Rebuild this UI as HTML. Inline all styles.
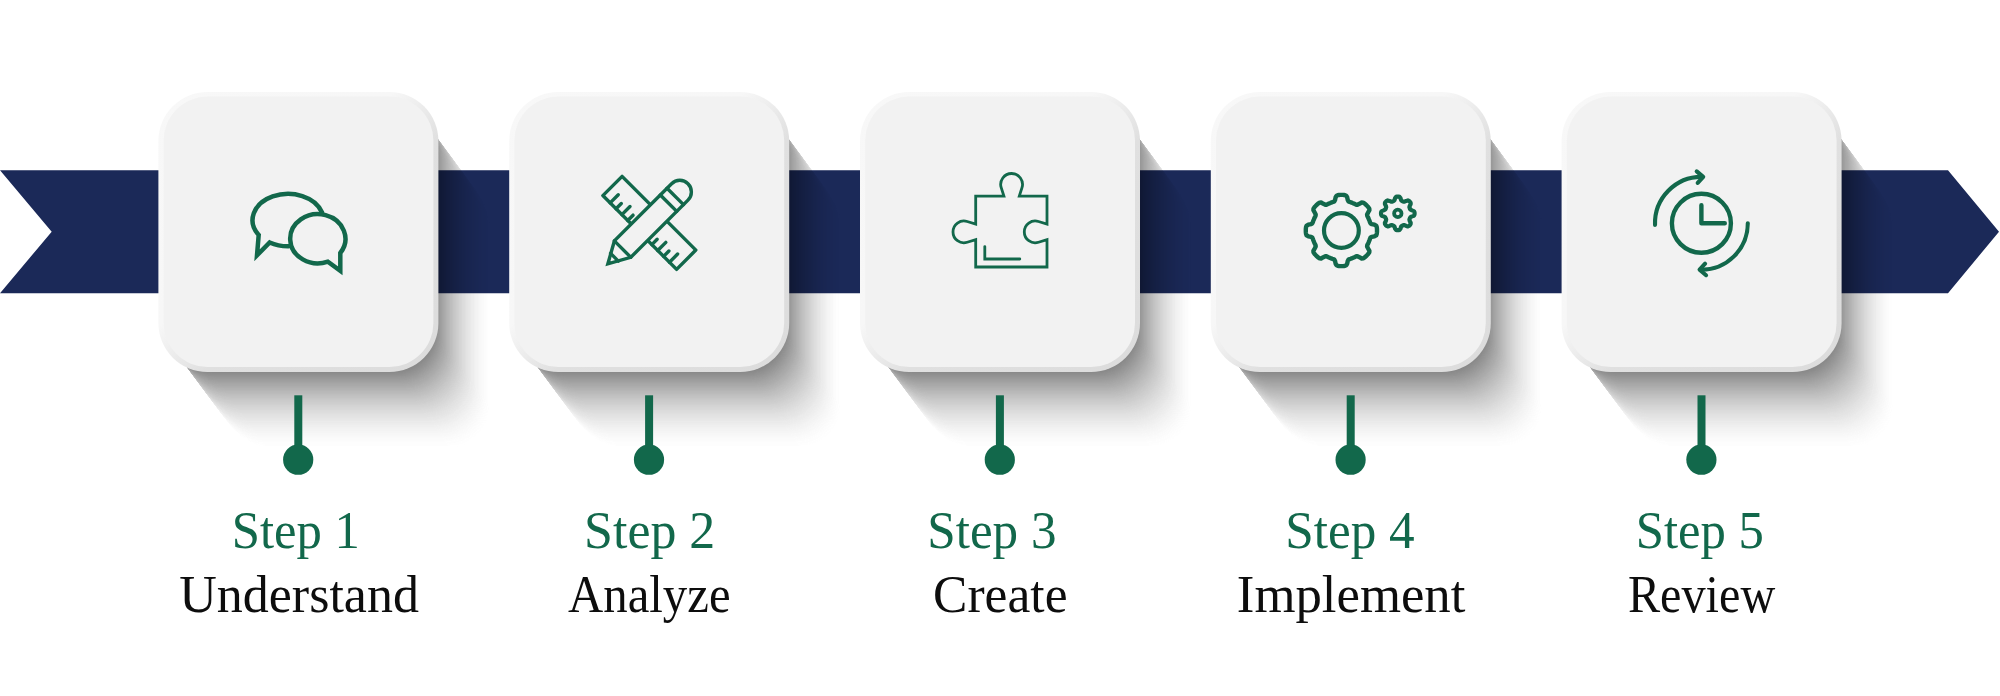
<!DOCTYPE html>
<html lang="en"><head><meta charset="utf-8"><title>Five step process</title>
<style>
html,body{margin:0;padding:0;background:#fff;}
body{width:2000px;height:696px;overflow:hidden;position:relative;font-family:"Liberation Serif",serif;}
svg{position:absolute;left:0;top:0;display:block;}
.ic{fill:none;stroke:#12684b;stroke-linecap:round;stroke-linejoin:round;}
.mi{stroke-linejoin:miter;stroke-miterlimit:6;}
.st{font-family:"Liberation Serif",serif;fill:#12684b;}
.nm{font-family:"Liberation Serif",serif;fill:#0d0d0d;}
</style></head><body>
<svg width="2000" height="696" viewBox="0 0 2000 696">
<defs>
<linearGradient id="bev" x1="0" y1="0" x2="1" y2="1"><stop offset="0" stop-color="#f8f8f8"/><stop offset="0.42" stop-color="#f7f7f7"/><stop offset="0.58" stop-color="#e0e0e0"/><stop offset="1" stop-color="#dcdcdc"/></linearGradient>
<rect id="sr" x="-133.5" y="-132" width="264.5" height="265" rx="41" ry="41"/>
<mask id="shm" maskUnits="userSpaceOnUse" maskContentUnits="userSpaceOnUse" x="-160" y="-160" width="420" height="420">
<rect x="-160" y="-160" width="420" height="420" fill="#000"/>
<use href="#sr" x="62.46" y="84.4" fill="#010101"/>
<use href="#sr" x="61.86" y="83.6" fill="#010101"/>
<use href="#sr" x="61.27" y="82.8" fill="#010101"/>
<use href="#sr" x="60.67" y="81.99" fill="#010101"/>
<use href="#sr" x="60.08" y="81.19" fill="#020202"/>
<use href="#sr" x="59.48" y="80.39" fill="#020202"/>
<use href="#sr" x="58.89" y="79.58" fill="#020202"/>
<use href="#sr" x="58.29" y="78.78" fill="#030303"/>
<use href="#sr" x="57.7" y="77.97" fill="#030303"/>
<use href="#sr" x="57.1" y="77.17" fill="#030303"/>
<use href="#sr" x="56.51" y="76.37" fill="#040404"/>
<use href="#sr" x="55.91" y="75.56" fill="#040404"/>
<use href="#sr" x="55.32" y="74.76" fill="#050505"/>
<use href="#sr" x="54.72" y="73.95" fill="#050505"/>
<use href="#sr" x="54.13" y="73.15" fill="#060606"/>
<use href="#sr" x="53.53" y="72.35" fill="#060606"/>
<use href="#sr" x="52.94" y="71.54" fill="#070707"/>
<use href="#sr" x="52.34" y="70.74" fill="#080808"/>
<use href="#sr" x="51.75" y="69.94" fill="#080808"/>
<use href="#sr" x="51.15" y="69.13" fill="#090909"/>
<use href="#sr" x="50.56" y="68.33" fill="#0a0a0a"/>
<use href="#sr" x="49.97" y="67.52" fill="#0a0a0a"/>
<use href="#sr" x="49.37" y="66.72" fill="#0b0b0b"/>
<use href="#sr" x="48.78" y="65.92" fill="#0c0c0c"/>
<use href="#sr" x="48.18" y="65.11" fill="#0d0d0d"/>
<use href="#sr" x="47.59" y="64.31" fill="#0d0d0d"/>
<use href="#sr" x="46.99" y="63.5" fill="#0e0e0e"/>
<use href="#sr" x="46.4" y="62.7" fill="#0f0f0f"/>
<use href="#sr" x="45.8" y="61.9" fill="#101010"/>
<use href="#sr" x="45.21" y="61.09" fill="#111111"/>
<use href="#sr" x="44.61" y="60.29" fill="#121212"/>
<use href="#sr" x="44.02" y="59.49" fill="#131313"/>
<use href="#sr" x="43.42" y="58.68" fill="#141414"/>
<use href="#sr" x="42.83" y="57.88" fill="#151515"/>
<use href="#sr" x="42.23" y="57.07" fill="#151515"/>
<use href="#sr" x="41.64" y="56.27" fill="#161616"/>
<use href="#sr" x="41.04" y="55.47" fill="#181818"/>
<use href="#sr" x="40.45" y="54.66" fill="#191919"/>
<use href="#sr" x="39.85" y="53.86" fill="#1a1a1a"/>
<use href="#sr" x="39.26" y="53.05" fill="#1b1b1b"/>
<use href="#sr" x="38.66" y="52.25" fill="#1c1c1c"/>
<use href="#sr" x="38.07" y="51.45" fill="#1d1d1d"/>
<use href="#sr" x="37.47" y="50.64" fill="#1e1e1e"/>
<use href="#sr" x="36.88" y="49.84" fill="#1f1f1f"/>
<use href="#sr" x="36.28" y="49.04" fill="#202020"/>
<use href="#sr" x="35.69" y="48.23" fill="#222222"/>
<use href="#sr" x="35.09" y="47.43" fill="#232323"/>
<use href="#sr" x="34.5" y="46.62" fill="#242424"/>
<use href="#sr" x="33.9" y="45.82" fill="#252525"/>
<use href="#sr" x="33.31" y="45.02" fill="#272727"/>
<use href="#sr" x="32.72" y="44.21" fill="#282828"/>
<use href="#sr" x="32.12" y="43.41" fill="#292929"/>
<use href="#sr" x="31.53" y="42.6" fill="#2b2b2b"/>
<use href="#sr" x="30.93" y="41.8" fill="#2c2c2c"/>
<use href="#sr" x="30.34" y="41" fill="#2d2d2d"/>
<use href="#sr" x="29.74" y="40.19" fill="#2f2f2f"/>
<use href="#sr" x="29.15" y="39.39" fill="#303030"/>
<use href="#sr" x="28.55" y="38.59" fill="#323232"/>
<use href="#sr" x="27.96" y="37.78" fill="#333333"/>
<use href="#sr" x="27.36" y="36.98" fill="#343434"/>
<use href="#sr" x="26.77" y="36.17" fill="#363636"/>
<use href="#sr" x="26.17" y="35.37" fill="#373737"/>
<use href="#sr" x="25.58" y="34.57" fill="#393939"/>
<use href="#sr" x="24.98" y="33.76" fill="#3a3a3a"/>
<use href="#sr" x="24.39" y="32.96" fill="#3c3c3c"/>
<use href="#sr" x="23.79" y="32.15" fill="#3e3e3e"/>
<use href="#sr" x="23.2" y="31.35" fill="#3f3f3f"/>
<use href="#sr" x="22.6" y="30.55" fill="#414141"/>
<use href="#sr" x="22.01" y="29.74" fill="#424242"/>
<use href="#sr" x="21.41" y="28.94" fill="#444444"/>
<use href="#sr" x="20.82" y="28.13" fill="#464646"/>
<use href="#sr" x="20.22" y="27.33" fill="#474747"/>
<use href="#sr" x="19.63" y="26.53" fill="#494949"/>
<use href="#sr" x="19.03" y="25.72" fill="#4b4b4b"/>
<use href="#sr" x="18.44" y="24.92" fill="#4d4d4d"/>
<use href="#sr" x="17.84" y="24.12" fill="#4e4e4e"/>
<use href="#sr" x="17.25" y="23.31" fill="#505050"/>
<use href="#sr" x="16.66" y="22.51" fill="#525252"/>
<use href="#sr" x="16.06" y="21.7" fill="#545454"/>
<use href="#sr" x="15.47" y="20.9" fill="#565656"/>
<use href="#sr" x="14.87" y="20.1" fill="#575757"/>
<use href="#sr" x="14.28" y="19.29" fill="#595959"/>
<use href="#sr" x="13.68" y="18.49" fill="#5b5b5b"/>
<use href="#sr" x="13.09" y="17.68" fill="#5d5d5d"/>
<use href="#sr" x="12.49" y="16.88" fill="#5f5f5f"/>
<use href="#sr" x="11.9" y="16.08" fill="#616161"/>
<use href="#sr" x="11.3" y="15.27" fill="#636363"/>
<use href="#sr" x="10.71" y="14.47" fill="#656565"/>
<use href="#sr" x="10.11" y="13.67" fill="#676767"/>
<use href="#sr" x="9.52" y="12.86" fill="#696969"/>
<use href="#sr" x="8.92" y="12.06" fill="#6b6b6b"/>
<use href="#sr" x="8.33" y="11.25" fill="#6d6d6d"/>
<use href="#sr" x="7.73" y="10.45" fill="#6f6f6f"/>
<use href="#sr" x="7.14" y="9.65" fill="#717171"/>
<use href="#sr" x="6.54" y="8.84" fill="#737373"/>
<use href="#sr" x="5.95" y="8.04" fill="#757575"/>
<use href="#sr" x="5.35" y="7.23" fill="#777777"/>
<use href="#sr" x="4.76" y="6.43" fill="#797979"/>
<use href="#sr" x="4.16" y="5.63" fill="#7b7b7b"/>
<use href="#sr" x="3.57" y="4.82" fill="#7e7e7e"/>
<use href="#sr" x="2.97" y="4.02" fill="#808080"/>
<use href="#sr" x="2.38" y="3.22" fill="#828282"/>
<use href="#sr" x="1.78" y="2.41" fill="#848484"/>
<use href="#sr" x="1.19" y="1.61" fill="#868686"/>
<use href="#sr" x="0.59" y="0.8" fill="#898989"/>
<use href="#sr" x="0" y="0" fill="#8b8b8b"/>
</mask>
<g id="shadow"><rect x="-160" y="-160" width="420" height="420" fill="#000" mask="url(#shm)"/></g>
</defs>
<path d="M0 170.2 L1948 170.2 L1999 231.7 L1948 293.2 L0 293.2 L51.7 231.7 Z" fill="#1b2958"/>
<use href="#shadow" x="298.4" y="232"/>
<use href="#shadow" x="649.2" y="232"/>
<use href="#shadow" x="1000" y="232"/>
<use href="#shadow" x="1350.8" y="232"/>
<use href="#shadow" x="1701.6" y="232"/>
<rect x="294.3" y="395.3" width="8" height="60" fill="#12684b"/>
<circle cx="298.2" cy="459.7" r="15.1" fill="#12684b"/>
<rect x="645.1" y="395.3" width="8" height="60" fill="#12684b"/>
<circle cx="649" cy="459.7" r="15.1" fill="#12684b"/>
<rect x="995.9" y="395.3" width="8" height="60" fill="#12684b"/>
<circle cx="999.8" cy="459.7" r="15.1" fill="#12684b"/>
<rect x="1346.7" y="395.3" width="8" height="60" fill="#12684b"/>
<circle cx="1350.6" cy="459.7" r="15.1" fill="#12684b"/>
<rect x="1697.5" y="395.3" width="8" height="60" fill="#12684b"/>
<circle cx="1701.4" cy="459.7" r="15.1" fill="#12684b"/>
<rect x="158.4" y="92" width="280" height="280" rx="49" fill="url(#bev)"/>
<rect x="163.6" y="96.6" width="269.8" height="270.4" rx="44" fill="#f2f2f2"/>
<rect x="509.2" y="92" width="280" height="280" rx="49" fill="url(#bev)"/>
<rect x="514.4" y="96.6" width="269.8" height="270.4" rx="44" fill="#f2f2f2"/>
<rect x="860" y="92" width="280" height="280" rx="49" fill="url(#bev)"/>
<rect x="865.2" y="96.6" width="269.8" height="270.4" rx="44" fill="#f2f2f2"/>
<rect x="1210.8" y="92" width="280" height="280" rx="49" fill="url(#bev)"/>
<rect x="1216" y="96.6" width="269.8" height="270.4" rx="44" fill="#f2f2f2"/>
<rect x="1561.6" y="92" width="280" height="280" rx="49" fill="url(#bev)"/>
<rect x="1566.8" y="96.6" width="269.8" height="270.4" rx="44" fill="#f2f2f2"/>
<g class="ic mi" stroke-width="4.5">
<path d="M322 212.4 A35.5 26.3 0 1 0 258.7 234.9 L257 255.3 L269.7 242.5 A35.5 26.3 0 0 0 288.6 246.3"/>
<path d="M340.3 253 A27.6 24.6 0 1 0 327.9 261.65 L340.3 270.8 Z"/>
</g>
<g class="ic" stroke-width="3.4">
<g transform="translate(649.1 222.6) rotate(45)">
<rect x="-51.8" y="-13.6" width="104.3" height="27.2"/>
<path d="M-41.5 13.6 L-41.5 2.1"/>
<path d="M-33.2 13.6 L-33.2 6.1"/>
<path d="M-24.9 13.6 L-24.9 2.1"/>
<path d="M-16.6 13.6 L-16.6 6.1"/>
<path d="M17.5 13.6 L17.5 6.1"/>
<path d="M25.8 13.6 L25.8 2.1"/>
<path d="M34.1 13.6 L34.1 6.1"/>
<path d="M42.4 13.6 L42.4 2.1"/>
</g>
<g class="mi" transform="translate(649.1 222.6) rotate(-45)" fill="#f2f2f2">
<path d="M-58.3 0 L-37.5 -11.6 L43.4 -11.6 A11.6 11.6 0 0 1 43.4 11.6 L-37.5 11.6 Z"/>
<path d="M-37.5 -11.6 L-37.5 11.6 M27.5 -11.6 L27.5 11.6 M37 -11.6 L37 11.6 M-49 -5.5 L-49 5.5"/>
</g>
</g>
<g class="ic mi" stroke-width="2.8">
<path d="M975.7 196.2 L1003.9 196.2 L1001.21 187.7 A10.9 10.9 0 1 1 1021.99 187.7 L1019.3 196.2 L1047 196.2 L1047 224.2 L1038.5 221.51 A10.9 10.9 0 1 0 1038.5 242.29 L1047 239.6 L1047 267 L975.7 267 L975.7 239.6 L967.2 242.29 A10.9 10.9 0 1 1 967.2 221.51 L975.7 224.2 Z"/>
<path d="M984.8 246.6 L984.8 259 L1019.8 259"/>
</g>
<g class="ic">
<path stroke-width="4.4" d="M1377.0 230.5L1377.0 231.7L1376.9 233.0L1376.7 234.2L1376.2 235.4L1374.5 236.3L1371.7 236.9L1370.4 237.7L1370.0 238.7L1369.7 239.7L1369.3 240.7L1368.9 241.6L1368.5 242.6L1368.1 243.5L1367.6 244.5L1367.2 245.4L1367.1 246.5L1368.1 248.5L1369.4 250.8L1369.3 252.3L1368.6 253.4L1367.9 254.3L1367.0 255.2L1366.1 256.1L1365.2 257.0L1364.3 257.7L1363.2 258.4L1361.7 258.5L1359.4 257.2L1357.4 256.2L1356.3 256.3L1355.4 256.7L1354.4 257.2L1353.5 257.6L1352.5 258.0L1351.6 258.4L1350.6 258.8L1349.6 259.1L1348.6 259.5L1347.8 260.8L1347.2 263.6L1346.3 265.3L1345.1 265.8L1343.9 266.0L1342.6 266.1L1341.4 266.1L1340.2 266.1L1338.9 266.0L1337.7 265.8L1336.5 265.3L1335.6 263.6L1335.0 260.8L1334.2 259.5L1333.2 259.1L1332.2 258.8L1331.2 258.4L1330.3 258.0L1329.3 257.6L1328.4 257.2L1327.4 256.7L1326.5 256.3L1325.4 256.2L1323.4 257.2L1321.1 258.5L1319.6 258.4L1318.5 257.7L1317.6 257.0L1316.7 256.1L1315.8 255.2L1314.9 254.3L1314.2 253.4L1313.5 252.3L1313.4 250.8L1314.7 248.5L1315.7 246.5L1315.6 245.4L1315.2 244.5L1314.7 243.5L1314.3 242.6L1313.9 241.6L1313.5 240.7L1313.1 239.7L1312.8 238.7L1312.4 237.7L1311.1 236.9L1308.3 236.3L1306.6 235.4L1306.1 234.2L1305.9 233.0L1305.8 231.7L1305.8 230.5L1305.8 229.3L1305.9 228.0L1306.1 226.8L1306.6 225.6L1308.3 224.7L1311.1 224.1L1312.4 223.3L1312.8 222.3L1313.1 221.3L1313.5 220.3L1313.9 219.4L1314.3 218.4L1314.7 217.5L1315.2 216.5L1315.6 215.6L1315.7 214.5L1314.7 212.5L1313.4 210.2L1313.5 208.7L1314.2 207.6L1314.9 206.7L1315.8 205.8L1316.7 204.9L1317.6 204.0L1318.5 203.3L1319.6 202.6L1321.1 202.5L1323.4 203.8L1325.4 204.8L1326.5 204.7L1327.4 204.3L1328.4 203.8L1329.3 203.4L1330.3 203.0L1331.2 202.6L1332.2 202.2L1333.2 201.9L1334.2 201.5L1335.0 200.2L1335.6 197.4L1336.5 195.7L1337.7 195.2L1338.9 195.0L1340.2 194.9L1341.4 194.9L1342.6 194.9L1343.9 195.0L1345.1 195.2L1346.3 195.7L1347.2 197.4L1347.8 200.2L1348.6 201.5L1349.6 201.9L1350.6 202.2L1351.6 202.6L1352.5 203.0L1353.5 203.4L1354.4 203.8L1355.4 204.3L1356.3 204.7L1357.4 204.8L1359.4 203.8L1361.7 202.5L1363.2 202.6L1364.3 203.3L1365.2 204.0L1366.1 204.9L1367.0 205.8L1367.9 206.7L1368.6 207.6L1369.3 208.7L1369.4 210.2L1368.1 212.5L1367.1 214.5L1367.2 215.6L1367.6 216.5L1368.1 217.5L1368.5 218.4L1368.9 219.4L1369.3 220.3L1369.7 221.3L1370.0 222.3L1370.4 223.3L1371.7 224.1L1374.5 224.7L1376.2 225.6L1376.7 226.8L1376.9 228.0L1377.0 229.3Z"/>
<circle cx="1341.4" cy="230.5" r="17.4" stroke-width="4.2"/>
<path stroke-width="4.2" d="M1414.6 213.4L1414.5 214.6L1413.9 215.7L1412.0 216.4L1410.6 217.1L1410.0 217.9L1409.7 218.7L1409.4 219.6L1409.7 220.9L1410.7 222.8L1410.6 224.1L1409.9 225.1L1409.0 225.9L1407.9 226.4L1406.2 225.9L1404.5 225.1L1403.5 225.1L1402.7 225.5L1401.8 225.9L1401.1 226.7L1400.5 228.7L1399.5 229.9L1398.4 230.2L1397.2 230.2L1396.1 229.9L1395.1 228.7L1394.5 226.7L1393.8 225.9L1392.9 225.5L1392.1 225.1L1391.1 225.1L1389.4 225.9L1387.7 226.4L1386.6 225.9L1385.7 225.1L1385.0 224.1L1384.9 222.8L1385.9 220.9L1386.2 219.6L1385.9 218.7L1385.6 217.9L1385.0 217.1L1383.6 216.4L1381.7 215.7L1381.1 214.6L1381.0 213.4L1381.1 212.2L1381.7 211.1L1383.6 210.4L1385.0 209.7L1385.6 208.9L1385.9 208.1L1386.2 207.2L1385.9 205.9L1384.9 204.0L1385.0 202.7L1385.7 201.7L1386.6 200.9L1387.7 200.4L1389.4 200.9L1391.1 201.7L1392.1 201.7L1392.9 201.3L1393.8 200.9L1394.5 200.1L1395.1 198.1L1396.1 196.9L1397.2 196.6L1398.4 196.6L1399.5 196.9L1400.5 198.1L1401.1 200.1L1401.8 200.9L1402.7 201.3L1403.5 201.7L1404.5 201.7L1406.2 200.9L1407.9 200.4L1409.0 200.9L1409.9 201.7L1410.6 202.7L1410.7 204.0L1409.7 205.9L1409.4 207.2L1409.7 208.1L1410.0 208.9L1410.6 209.7L1412.0 210.4L1413.9 211.1L1414.5 212.2Z"/>
<circle cx="1397.8" cy="213.4" r="3.7" stroke-width="3.8"/>
</g>
<g class="ic" stroke-width="4.4">
<circle cx="1701.4" cy="223.3" r="29.5"/>
<path d="M1701.4 205.3 L1701.4 223.3 L1724.8 223.3"/>
</g>
<g class="ic" stroke-width="4.1">
<path d="M1655.03 224.92 A46.4 46.4 0 0 1 1702.21 176.91"/>
<path d="M1696.71 171.41 L1703.21 176.91 L1697.71 182.91"/>
<path d="M1747.8 223.3 A46.4 46.4 0 0 1 1700.59 269.69"/>
<path d="M1706.09 275.19 L1699.59 269.69 L1705.09 263.69"/>
</g>
<text class="st" transform="translate(295.8 547.8) scale(0.9744 1)" font-size="52" text-anchor="middle">Step 1</text>
<text class="st" transform="translate(649.7 547.8) scale(0.9984 1)" font-size="52" text-anchor="middle">Step 2</text>
<text class="st" transform="translate(991.9 547.8) scale(0.9835 1)" font-size="52" text-anchor="middle">Step 3</text>
<text class="st" transform="translate(1350 547.8) scale(0.9844 1)" font-size="52" text-anchor="middle">Step 4</text>
<text class="st" transform="translate(1699.8 547.8) scale(0.9746 1)" font-size="52" text-anchor="middle">Step 5</text>
<text class="nm" transform="translate(299.1 612.2) scale(0.9997 1)" font-size="52" text-anchor="middle">Understand</text>
<text class="nm" transform="translate(649.3 612.2) scale(0.9384 1)" font-size="52" text-anchor="middle">Analyze</text>
<text class="nm" transform="translate(1000.3 612.2) scale(0.991 1)" font-size="52" text-anchor="middle">Create</text>
<text class="nm" transform="translate(1351.1 612.2) scale(1.0152 1)" font-size="52" text-anchor="middle">Implement</text>
<text class="nm" transform="translate(1701.6 612.2) scale(0.9279 1)" font-size="52" text-anchor="middle">Review</text>
</svg>
</body></html>
